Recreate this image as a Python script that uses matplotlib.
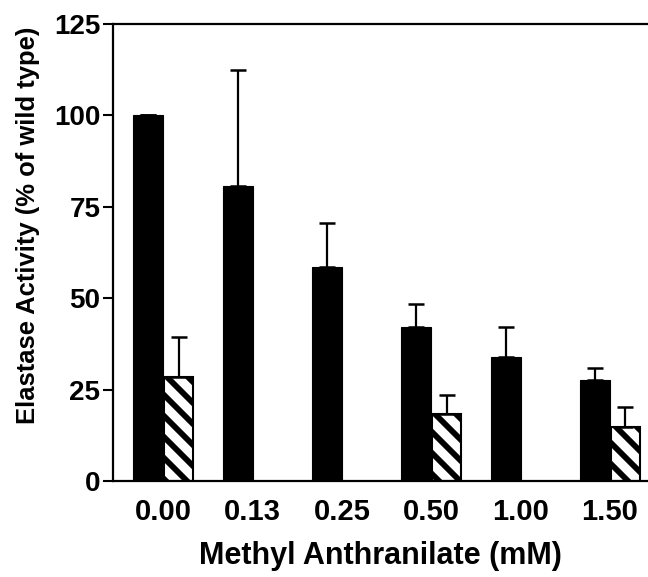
import numpy as np
import matplotlib
matplotlib.use("Agg")
import matplotlib.pyplot as plt

# concentrations of methyl anthranilate (mM)
conc_labels = ["0.00", "0.13", "0.25", "0.50", "1.00", "1.50"]

# black bars: elastase activity, % of wild type
black_vals = [100.0, 80.7, 58.6, 42.0, 34.0, 27.7]
black_err = [0.0, 31.7, 11.9, 6.5, 8.0, 3.2]

# hatched bars (only at some concentrations)
hatch_idx = [0, 3, 5]
hatch_vals = [28.4, 18.2, 14.7]
hatch_err = [11.1, 5.4, 5.5]

# dpi chosen so the hatch spacing matches the scan; sizes below are given
# as if at 100 dpi and scaled by S
DPI = 126
S = 100 / DPI

plt.rcParams["font.family"] = ["Liberation Sans", "DejaVu Sans"]
plt.rcParams["font.weight"] = "bold"
plt.rcParams["hatch.linewidth"] = 4.2 * S
plt.rcParams["hatch.color"] = "black"

fig = plt.figure(figsize=(648 / DPI, 577 / DPI), dpi=DPI)
ax = fig.add_axes([0.174, 0.1664, 0.826, 0.792])

x = np.arange(len(conc_labels))
w = 0.335
ekw = dict(elinewidth=1.6 * S, capthick=1.8 * S, capsize=5.5 * S, ecolor="black")

ax.bar(x, black_vals, width=-w, align="edge", color="black", edgecolor="black",
       linewidth=0.8 * S)
ax.errorbar(x - w / 2, black_vals, yerr=[np.zeros(len(black_err)), black_err],
            fmt="none", **ekw)

hx = np.array(hatch_idx, dtype=float)
ax.bar(hx + 0.01, hatch_vals, width=w - 0.01, align="edge", color="white",
       edgecolor="black", linewidth=1.5 * S, hatch="\\\\")
ax.errorbar(hx + 0.01 + (w - 0.01) / 2, hatch_vals,
            yerr=[np.zeros(len(hatch_err)), hatch_err], fmt="none", **ekw)

ax.set_xlim(-0.565, 5.425)
ax.set_ylim(0, 125)
ax.set_yticks([0, 25, 50, 75, 100, 125])
ax.set_xticks(x)
ax.set_xticklabels(conc_labels)

for side in ("left", "bottom", "top"):
    ax.spines[side].set_linewidth(1.6 * S)
ax.spines["right"].set_visible(False)

ax.tick_params(axis="y", direction="out", length=7 * S, width=1.5 * S,
               labelsize=20 * S, pad=2 * S)
ax.tick_params(axis="x", length=0, labelsize=21 * S, pad=12 * S)

ax.set_xlabel("Methyl Anthranilate (mM)", fontsize=22 * S, fontweight="bold",
              labelpad=11 * S)
ax.set_ylabel("Elastase Activity (% of wild type)", fontsize=18.5 * S,
              fontweight="bold")
ax.yaxis.set_label_coords(-0.135, 0.56)

fig.savefig("out.png", dpi=DPI, facecolor="white")
